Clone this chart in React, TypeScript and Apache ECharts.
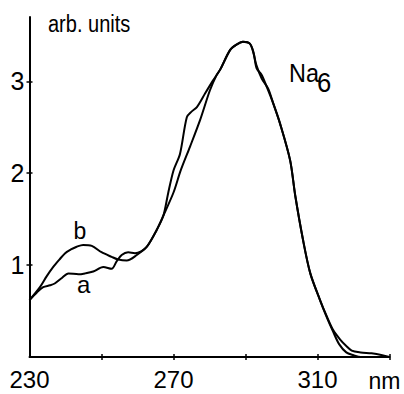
import React, { useEffect, useRef } from "react";
import * as echarts from "echarts";

const aNm = [230, 232, 233.8, 235.7, 237, 239, 240.8, 243.6, 245.5, 247.7, 250.5, 252.8, 254.2, 255.6, 257.4, 259.3, 261, 262.6, 265.3, 267.2, 268.5, 270, 271.8, 273.7, 275, 276.5, 278.8, 281, 283, 285.7, 287.5, 289.3, 291.2, 292.2, 293, 294.5, 296.3, 297.7, 299.6, 302.4, 303.8, 306, 308, 310.7, 312.5, 314.4, 316.3, 318, 319.5, 322, 325, 328, 330];
const aVal = [0.62, 0.70, 0.76, 0.78, 0.80, 0.86, 0.91, 0.90, 0.91, 0.93, 0.98, 0.96, 1.04, 1.11, 1.14, 1.13, 1.15, 1.20, 1.38, 1.54, 1.78, 2.03, 2.21, 2.61, 2.67, 2.72, 2.87, 3.01, 3.13, 3.34, 3.40, 3.43, 3.41, 3.31, 3.18, 3.03, 2.92, 2.76, 2.54, 2.14, 1.76, 1.27, 0.91, 0.62, 0.45, 0.29, 0.19, 0.12, 0.07, 0.05, 0.04, 0.02, 0.0];
const bNm = [230, 232.9, 234.8, 236.6, 238.3, 239.9, 241.5, 243.1, 244.9, 247.3, 250, 252.8, 254.7, 257, 259.8, 262.6, 265.3, 267.2, 270, 272, 274.6, 277.4, 280.1, 282, 283, 285.7, 287.5, 289.3, 291.2, 292.2, 293.1, 294.5, 295.9, 297.7, 299.6, 302.4, 303.8, 306, 308, 310.7, 312.5, 314.4, 316, 318, 320, 322, 330];
const bVal = [0.62, 0.76, 0.88, 0.98, 1.06, 1.13, 1.17, 1.20, 1.22, 1.21, 1.14, 1.09, 1.06, 1.05, 1.11, 1.20, 1.38, 1.54, 1.79, 2.03, 2.29, 2.58, 2.90, 3.07, 3.13, 3.34, 3.40, 3.43, 3.41, 3.32, 3.14, 3.07, 2.94, 2.76, 2.54, 2.14, 1.76, 1.27, 0.91, 0.62, 0.44, 0.27, 0.14, 0.05, 0.02, 0.0, 0.0];

const xTicks = [250, 270, 290, 310, 330];
const xLabels = [230, 270, 310];
const yTicks = [1, 2, 3];

const FONT = "'Liberation Sans', Arial, sans-serif";

export default function App() {
  const ref = useRef<HTMLDivElement>(null);
  useEffect(() => {
    if (!ref.current) return;
    const chart = echarts.init(ref.current, null, { renderer: "svg" });
    const aData = aNm.map((x, i) => [x, aVal[i]]);
    const bData = bNm.map((x, i) => [x, bVal[i]]);
    const axisLine = { show: true, lineStyle: { color: "#000", width: 2 } };
    const tickStyle = { color: "#000", width: 1.5 };
    chart.setOption({
      animation: false,
      backgroundColor: "#fff",
      grid: { left: 29.5, right: 14.5, top: 17, bottom: 37 },
      xAxis: [
        {
          type: "value", min: 230, max: 330, position: "bottom",
          axisLine,
          splitLine: { show: false },
          axisTick: { show: true, customValues: xTicks, length: 3, lineStyle: tickStyle },
          axisLabel: { customValues: xLabels, color: "#000", fontSize: 24, fontFamily: FONT, margin: 10 },
        },
        {
          type: "value", min: 230, max: 330, position: "bottom",
          axisLine: { show: false },
          splitLine: { show: false },
          axisTick: { show: true, inside: true, customValues: xTicks, length: 3, lineStyle: tickStyle },
          axisLabel: { show: false },
        },
      ],
      yAxis: [
        {
          type: "value", min: 0, max: 3.7, position: "left",
          axisLine,
          splitLine: { show: false },
          axisTick: { show: true, customValues: yTicks, length: 3, lineStyle: tickStyle },
          axisLabel: { customValues: yTicks, color: "#000", fontSize: 25, fontFamily: FONT, margin: 5 },
        },
        {
          type: "value", min: 0, max: 3.7, position: "left",
          axisLine: { show: false },
          splitLine: { show: false },
          axisTick: { show: true, inside: true, customValues: yTicks, length: 3, lineStyle: tickStyle },
          axisLabel: { show: false },
        },
      ],
      series: [
        {
          name: "a", type: "line", data: aData, smooth: 0.3, symbol: "none",
          lineStyle: { color: "#000", width: 2 },
        },
        {
          name: "b", type: "line", data: bData, smooth: 0.3, symbol: "none",
          lineStyle: { color: "#000", width: 2 },
        },
      ],
      graphic: [
        { type: "text", x: 48, y: 12.5, scaleX: 0.87, style: { text: "arb. units", fill: "#000", font: `23px ${FONT}`, verticalAlign: "top" } },
        { type: "text", x: 289, y: 60, scaleX: 0.9, style: { text: "Na", fill: "#000", font: `26px ${FONT}`, verticalAlign: "top" } },
        { type: "text", x: 317, y: 69.5, scaleX: 0.95, style: { text: "6", fill: "#000", font: `27px ${FONT}`, verticalAlign: "top" } },
        { type: "text", x: 73.5, y: 219, style: { text: "b", fill: "#000", font: `23px ${FONT}`, verticalAlign: "top" } },
        { type: "text", x: 77, y: 272.5, style: { text: "a", fill: "#000", font: `24px ${FONT}`, verticalAlign: "top" } },
        { type: "text", x: 368.5, y: 369, style: { text: "nm", fill: "#000", font: `23px ${FONT}`, verticalAlign: "top" } },
      ],
    });
    return () => chart.dispose();
  }, []);
  return (
    <div
      ref={ref}
      style={{ position: "fixed", left: 0, top: 0, width: 404, height: 394, background: "#fff" }}
    />
  );
}
